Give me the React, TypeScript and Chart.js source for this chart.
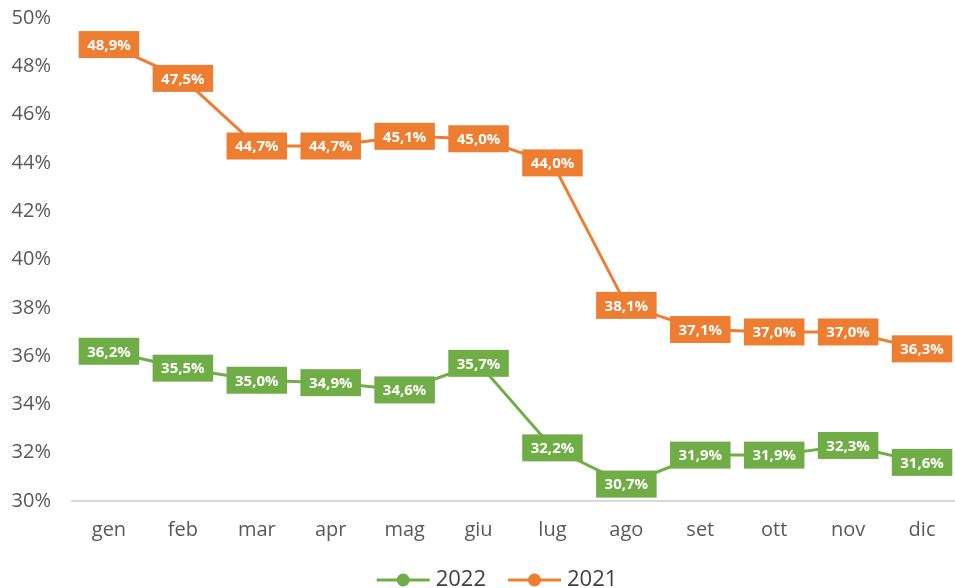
import React, { useEffect, useRef } from "react";
import { Chart, registerables } from "chart.js";

Chart.register(...registerables);

const categories = ["gen", "feb", "mar", "apr", "mag", "giu", "lug", "ago", "set", "ott", "nov", "dic"];
const series2022 = [36.2, 35.5, 35.0, 34.9, 34.6, 35.7, 32.2, 30.7, 31.9, 31.9, 32.3, 31.6];
const series2021 = [48.9, 47.5, 44.7, 44.7, 45.1, 45.0, 44.0, 38.1, 37.1, 37.0, 37.0, 36.3];
const seriesNames = ["2022", "2021"];
const seriesColors = ["#70AD47", "#ED7D31"];
const yMin = 30;
const yMax = 50;
const yStep = 2;

const FONT = "'Open Sans', sans-serif";

const fmt = (v: number) => v.toFixed(1).replace(".", ",") + "%";

const labelPlugin = {
  id: "boxLabels",
  afterDatasetsDraw(chart: any) {
    const ctx = chart.ctx;
    ctx.save();
    ctx.font = `bold 15px ${FONT}`;
    ctx.textAlign = "center";
    ctx.textBaseline = "middle";
    chart.data.datasets.forEach((ds: any, i: number) => {
      const meta = chart.getDatasetMeta(i);
      meta.data.forEach((pt: any, j: number) => {
        const txt = fmt(ds.data[j]);
        const w = ctx.measureText(txt).width + 17;
        const h = 27;
        ctx.fillStyle = ds.borderColor;
        ctx.fillRect(pt.x - w / 2, pt.y - h / 2, w, h);
        ctx.fillStyle = "#ffffff";
        ctx.fillText(txt, pt.x, pt.y + 1);
      });
    });
    ctx.restore();
  },
};

const legendPlugin = {
  id: "lineLegend",
  afterDraw(chart: any) {
    const ctx = chart.ctx;
    ctx.save();
    ctx.font = `22px ${FONT}`;
    ctx.textBaseline = "middle";
    const lineW = 53;
    const gapText = 6;
    const gapItem = 22;
    const items = chart.data.datasets.map((ds: any) => ({
      label: ds.label,
      color: ds.borderColor,
      tw: ctx.measureText(ds.label).width,
    }));
    const total = items.reduce((s: number, it: any) => s + lineW + gapText + it.tw, 0) + gapItem * (items.length - 1);
    let x = 497 - total / 2;
    const y = 580;
    items.forEach((it: any) => {
      ctx.strokeStyle = it.color;
      ctx.lineWidth = 3;
      ctx.beginPath();
      ctx.moveTo(x, y);
      ctx.lineTo(x + lineW, y);
      ctx.stroke();
      ctx.fillStyle = it.color;
      ctx.beginPath();
      ctx.arc(x + lineW / 2, y, 6.5, 0, Math.PI * 2);
      ctx.fill();
      ctx.fillStyle = "#404040";
      ctx.textAlign = "left";
      ctx.fillText(it.label, x + lineW + gapText, y);
      x += lineW + gapText + it.tw + gapItem;
    });
    ctx.restore();
  },
};

export default function App() {
  const ref = useRef<HTMLCanvasElement>(null);
  useEffect(() => {
    if (!ref.current) return;
    const chart = new Chart(ref.current, {
      type: "line",
      data: {
        labels: categories,
        datasets: [
          {
            label: seriesNames[0],
            data: series2022,
            borderColor: seriesColors[0],
            backgroundColor: seriesColors[0],
            borderWidth: 3,
            pointRadius: 5,
            pointHoverRadius: 5,
            tension: 0,
          },
          {
            label: seriesNames[1],
            data: series2021,
            borderColor: seriesColors[1],
            backgroundColor: seriesColors[1],
            borderWidth: 3,
            pointRadius: 5,
            pointHoverRadius: 5,
            tension: 0,
          },
        ],
      },
      options: {
        responsive: false,
        animation: false,
        layout: { padding: { top: 18, right: 0, left: 0, bottom: 42 } },
        plugins: {
          legend: { display: false },
          tooltip: { enabled: false },
        },
        scales: {
          x: {
            offset: true,
            grid: { display: false, drawTicks: false },
            border: { display: true, color: "#d9d9d9", width: 2 },
            ticks: { color: "#595959", font: { family: FONT, size: 20 }, padding: 17 },
            afterFit: (s: any) => {
              s.height = 45;
              s.paddingLeft = 0;
              s.paddingRight = 0;
            },
          },
          y: {
            min: yMin,
            max: yMax,
            grid: { display: false, drawTicks: false },
            border: { display: false },
            ticks: {
              stepSize: yStep,
              color: "#595959",
              font: { family: FONT, size: 20 },
              padding: 21,
              callback: (v: any) => v + "%",
            },
            afterFit: (s: any) => {
              s.width = 72;
              s.paddingTop = 0;
              s.paddingBottom = 0;
            },
          },
        },
      },
      plugins: [labelPlugin, legendPlugin],
    });
    return () => chart.destroy();
  }, []);
  return (
    <div style={{ position: "fixed", left: 0, top: 0, width: 955, height: 588, overflow: "hidden", background: "#fff" }}>
      <canvas ref={ref} width={967} height={588} style={{ display: "block" }} />
    </div>
  );
}
